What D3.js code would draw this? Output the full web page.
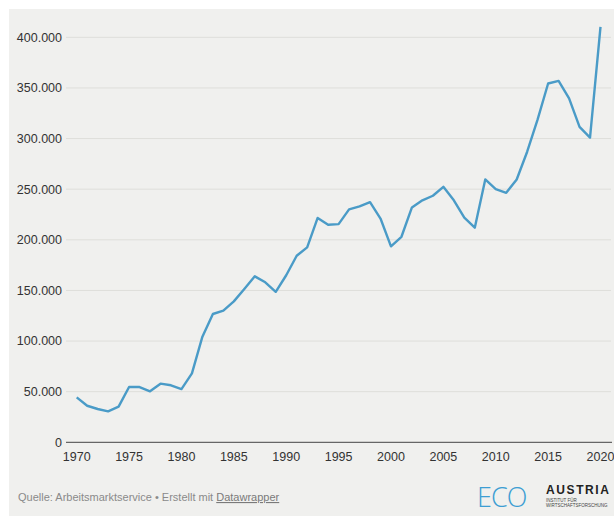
<!DOCTYPE html>
<html><head><meta charset="utf-8">
<script src="https://cdn.jsdelivr.net/npm/d3@7"></script>
<style>
html,body{margin:0;padding:0;background:#fff;}
svg{display:block;font-family:"Liberation Sans",Arial,sans-serif;}
</style></head><body>
<svg id="c" width="614" height="516"></svg>
<script>
const years = [1970,1971,1972,1973,1974,1975,1976,1977,1978,1979,1980,1981,1982,1983,1984,1985,1986,1987,1988,1989,1990,1991,1992,1993,1994,1995,1996,1997,1998,1999,2000,2001,2002,2003,2004,2005,2006,2007,2008,2009,2010,2011,2012,2013,2014,2015,2016,2017,2018,2019,2020];
const values = [44400,36100,32900,30600,35200,54600,54600,50400,57900,56300,52600,68100,104300,126700,130000,139200,151500,163900,158000,148600,165000,184200,192500,221600,214800,215500,230000,233000,237200,221000,193500,203000,232000,239000,243500,252300,239000,221800,212000,259600,250000,246400,259600,287000,318900,354400,357000,339600,311600,301000,410300];
const yTicks = [0,50000,100000,150000,200000,250000,300000,350000,400000];
const xTicks = [1970,1975,1980,1985,1990,1995,2000,2005,2010,2015,2020];
const sourceText = "Quelle: Arbeitsmarktservice • Erstellt mit ";
const linkText = "Datawrapper";

const svg = d3.select("#c");
svg.append("rect").attr("x",9).attr("y",9).attr("width",605).attr("height",507).attr("fill","#f0f0ee");

const x = d3.scaleLinear().domain([1970,2020]).range([76.7,600.5]);
const y = d3.scaleLinear().domain([0,400000]).range([442.3,37.3]);
const fmt = v => d3.format(",")(v).replace(/,/g,".");

const gy = svg.append("g");
gy.selectAll("line").data(yTicks.filter(d=>d>0)).join("line")
  .attr("x1",66).attr("x2",611).attr("y1",d=>y(d)).attr("y2",d=>y(d))
  .attr("stroke","#dededa").attr("stroke-width",1);
gy.selectAll("text").data(yTicks).join("text")
  .attr("x",62).attr("y",d=>y(d)).attr("dy","0.35em").attr("text-anchor","end")
  .attr("font-size",12.5).attr("fill","#333").text(fmt);

svg.append("line").attr("x1",66).attr("x2",612).attr("y1",y(0)).attr("y2",y(0))
  .attr("stroke","#444").attr("stroke-width",1);

svg.append("g").selectAll("text").data(xTicks).join("text")
  .attr("x",d=>x(d)).attr("y",460.5).attr("text-anchor","middle")
  .attr("font-size",12.5).attr("fill","#333").text(d=>d);

const line = d3.line().x((d,i)=>x(years[i])).y(d=>y(d));
svg.append("path").datum(values).attr("d",line).attr("fill","none")
  .attr("stroke","#4a9bc7").attr("stroke-width",2.4).attr("stroke-linejoin","round");

const ft = svg.append("text").attr("x",18).attr("y",501).attr("font-size",11).attr("fill","#8a8a8a");
ft.append("tspan").text(sourceText);
ft.append("tspan").attr("text-decoration","underline").attr("fill","#7a7a7a").text(linkText);

// logo
svg.append("text").attr("x",477).attr("y",507).attr("font-size",27).attr("font-weight",300)
  .attr("font-family","'Open Sans',sans-serif").attr("fill","#3d9ed3").attr("letter-spacing",-1).text("ECO");
svg.append("text").attr("x",546).attr("y",494).attr("font-size",12).attr("font-weight",700)
  .attr("fill","#222").attr("letter-spacing",1.6).text("AUSTRIA");
svg.append("text").attr("x",546).attr("y",502).attr("font-size",4.5).attr("fill","#444").text("INSTITUT FÜR");
svg.append("text").attr("x",546).attr("y",507).attr("font-size",4.5).attr("fill","#444").text("WIRTSCHAFTSFORSCHUNG");
</script></body></html>
